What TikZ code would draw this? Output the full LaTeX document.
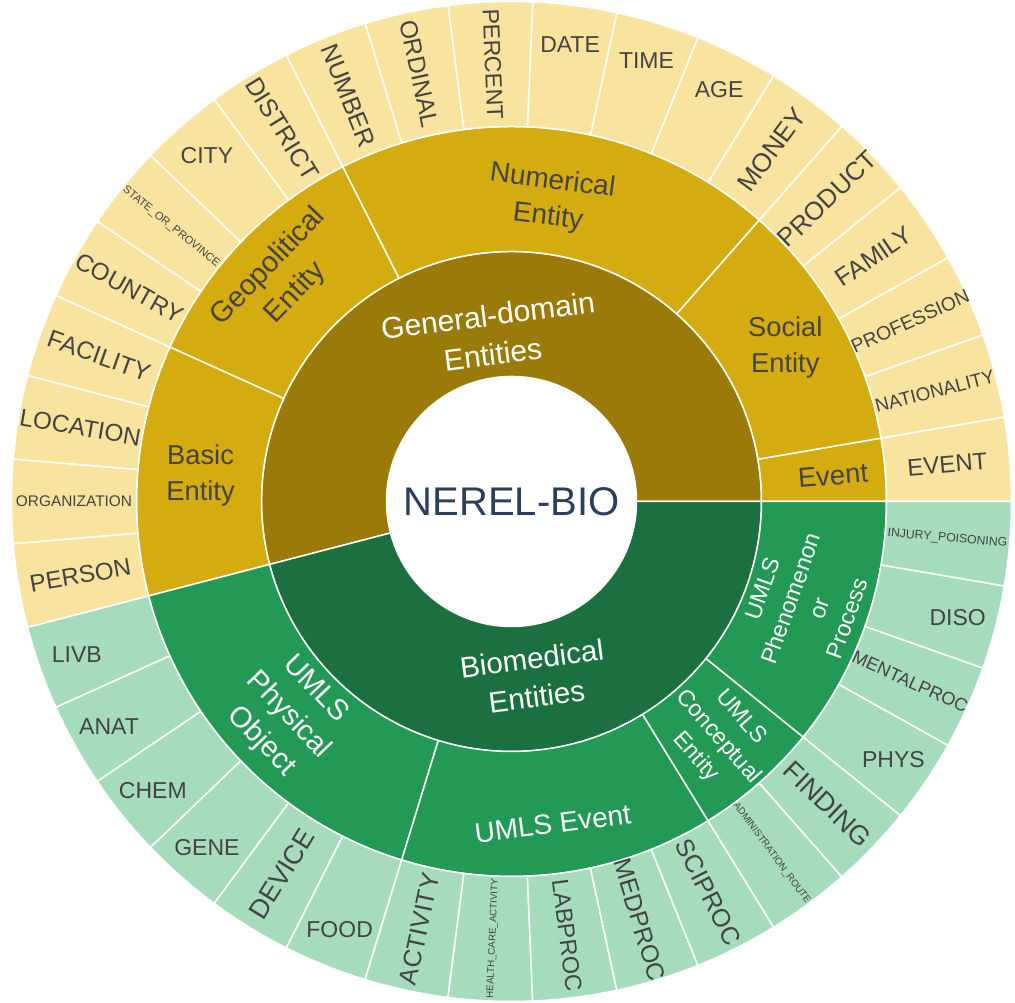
\documentclass[tikz,border=0pt]{standalone}
\usepackage{fontspec}
\setmainfont{Liberation Sans}
\usepackage{tikz}
\usepackage{xcolor}

\definecolor{gdInner}{HTML}{9A7B0A}
\definecolor{gdMid}{HTML}{D4AC10}
\definecolor{gdLeaf}{HTML}{F8E49E}
\definecolor{bioInner}{HTML}{1A703E}
\definecolor{bioMid}{HTML}{229955}
\definecolor{bioLeaf}{HTML}{A5DCBC}
\definecolor{labelGray}{HTML}{444444}
\definecolor{titleBlue}{HTML}{2A3F5F}

\begin{document}
\begin{tikzpicture}[x=1pt, y=1pt]
        % Cell and label style definitions
        \tikzset{
            sector/.style n args={4}{insert path={({#1}:#3) arc[start angle={#1}, end angle={#2}, radius=#3] -- ({#2}:#4) arc[start angle={#2}, end angle={#1}, radius=#4] -- cycle}},
            gdInnerCell/.style={fill=gdInner, draw=white, line width=1.5pt},
            gdMidCell/.style={fill=gdMid, draw=white, line width=1.5pt},
            gdLeafCell/.style={fill=gdLeaf, draw=white, line width=1.5pt},
            bioInnerCell/.style={fill=bioInner, draw=white, line width=1.5pt},
            bioMidCell/.style={fill=bioMid, draw=white, line width=1.5pt},
            bioLeafCell/.style={fill=bioLeaf, draw=white, line width=1.5pt},
            lbl/.style={inner sep=0pt, text=labelGray},
            wlbl/.style={inner sep=0pt, text=white},
            ft/.style 2 args={font=\fontsize{#1}{#2}\selectfont}
        }

        \fill[white] (-511.5,-500) rectangle (503.5,500);

        % ==========================================
        % INNER RING (domains)
        % ==========================================

        \path[gdInnerCell, sector={0}{194.59}{125}{250}];
        \path[bioInnerCell, sector={194.59}{360}{125}{250}];

        % ==========================================
        % MIDDLE RING (entity groups)
        % ==========================================

        \path[gdMidCell, sector={0}{9.73}{250}{375}];
        \path[gdMidCell, sector={9.73}{48.65}{250}{375}];
        \path[gdMidCell, sector={48.65}{116.76}{250}{375}];
        \path[gdMidCell, sector={116.76}{155.68}{250}{375}];
        \path[gdMidCell, sector={155.68}{194.59}{250}{375}];
        \path[bioMidCell, sector={194.59}{252.97}{250}{375}];
        \path[bioMidCell, sector={252.97}{301.62}{250}{375}];
        \path[bioMidCell, sector={301.62}{321.08}{250}{375}];
        \path[bioMidCell, sector={321.08}{360}{250}{375}];

        % ==========================================
        % OUTER RING (entity types)
        % ==========================================

        \path[gdLeafCell, sector={0}{9.73}{375}{500}];
        \path[gdLeafCell, sector={9.73}{19.46}{375}{500}];
        \path[gdLeafCell, sector={19.46}{29.19}{375}{500}];
        \path[gdLeafCell, sector={29.19}{38.92}{375}{500}];
        \path[gdLeafCell, sector={38.92}{48.65}{375}{500}];
        \path[gdLeafCell, sector={48.65}{58.38}{375}{500}];
        \path[gdLeafCell, sector={58.38}{68.11}{375}{500}];
        \path[gdLeafCell, sector={68.11}{77.84}{375}{500}];
        \path[gdLeafCell, sector={77.84}{87.57}{375}{500}];
        \path[gdLeafCell, sector={87.57}{97.30}{375}{500}];
        \path[gdLeafCell, sector={97.30}{107.03}{375}{500}];
        \path[gdLeafCell, sector={107.03}{116.76}{375}{500}];
        \path[gdLeafCell, sector={116.76}{126.49}{375}{500}];
        \path[gdLeafCell, sector={126.49}{136.22}{375}{500}];
        \path[gdLeafCell, sector={136.22}{145.95}{375}{500}];
        \path[gdLeafCell, sector={145.95}{155.68}{375}{500}];
        \path[gdLeafCell, sector={155.68}{165.41}{375}{500}];
        \path[gdLeafCell, sector={165.41}{175.14}{375}{500}];
        \path[gdLeafCell, sector={175.14}{184.86}{375}{500}];
        \path[gdLeafCell, sector={184.86}{194.59}{375}{500}];
        \path[bioLeafCell, sector={194.59}{204.32}{375}{500}];
        \path[bioLeafCell, sector={204.32}{214.05}{375}{500}];
        \path[bioLeafCell, sector={214.05}{223.78}{375}{500}];
        \path[bioLeafCell, sector={223.78}{233.51}{375}{500}];
        \path[bioLeafCell, sector={233.51}{243.24}{375}{500}];
        \path[bioLeafCell, sector={243.24}{252.97}{375}{500}];
        \path[bioLeafCell, sector={252.97}{262.70}{375}{500}];
        \path[bioLeafCell, sector={262.70}{272.43}{375}{500}];
        \path[bioLeafCell, sector={272.43}{282.16}{375}{500}];
        \path[bioLeafCell, sector={282.16}{291.89}{375}{500}];
        \path[bioLeafCell, sector={291.89}{301.62}{375}{500}];
        \path[bioLeafCell, sector={301.62}{311.35}{375}{500}];
        \path[bioLeafCell, sector={311.35}{321.08}{375}{500}];
        \path[bioLeafCell, sector={321.08}{330.81}{375}{500}];
        \path[bioLeafCell, sector={330.81}{340.54}{375}{500}];
        \path[bioLeafCell, sector={340.54}{350.27}{375}{500}];
        \path[bioLeafCell, sector={350.27}{360}{375}{500}];

        % ==========================================
        % LABELS
        % ==========================================

        \node[inner sep=0pt, text=titleBlue, ft={40}{40}] (root) at (0,0) {NEREL-BIO};

        \node[wlbl, ft={30}{39}, align=center, rotate=7.3] (generalDom) at (97.2:168) {General-domain\\Entities};
        \node[wlbl, ft={29.5}{38.5}, align=center, rotate=7.3] (biomedical) at (277.4:177.5) {Biomedical\\Entities};

        \node[lbl, ft={27.4}{27.4}, rotate=4.6] (eventGroup) at (4.6:322.5) {Event};
        \node[lbl, ft={27.3}{36}, align=center] (socialEnt) at (29.3:314) {Social\\Entity};
        \node[lbl, ft={28}{36.4}, align=center, rotate=-7.3] (numericalEnt) at (82.7:304.5) {Numerical\\Entity};
        \node[lbl, ft={29}{37.7}, align=center, rotate=46.2] (geoEnt) at (136:319) {Geopolitical\\Entity};
        \node[lbl, ft={27.3}{36}, align=center] (basicEnt) at (175.3:312) {Basic\\Entity};
        \node[wlbl, ft={29}{37.7}, align=center, rotate=-46.2] (physObject) at (223.8:309.4) {UMLS\\Physical\\Object};
        \node[wlbl, ft={28}{28}, rotate=7.3] (umlsEvent) at (277.3:324.7) {UMLS Event};
        \node[wlbl, ft={23}{29.9}, align=center, rotate=-48.65] (conceptEnt) at (311.2:313.6) {UMLS\\Conceptual\\Entity};
        \node[wlbl, ft={23}{29.9}, align=center, rotate=70.5] (phenProcess) at (340.8:310.7) {UMLS\\Phenomenon\\or\\Process};

        \node[lbl, ft={24}{24}, rotate=4.86] (event) at (4.86:437.5) {EVENT};
        \node[lbl, ft={18.9}{18.9}, rotate=14.59] (nationality) at (14.59:437.5) {NATIONALITY};
        \node[lbl, ft={19.4}{19.4}, rotate=24.32] (profession) at (24.32:437.5) {PROFESSION};
        \node[lbl, ft={24.8}{24.8}, rotate=34.05] (family) at (34.05:437.5) {FAMILY};
        \node[lbl, ft={25.6}{25.6}, rotate=43.78] (product) at (43.78:437.5) {PRODUCT};
        \node[lbl, ft={26.2}{26.2}, rotate=53.51] (money) at (53.51:437.5) {MONEY};
        \node[lbl, ft={23}{23}] (age) at (63.24:461) {AGE};
        \node[lbl, ft={23}{23}] (time) at (72.97:461) {TIME};
        \node[lbl, ft={23}{23}] (date) at (82.70:461) {DATE};
        \node[lbl, ft={23.2}{23.2}, rotate=-87.57] (percent) at (92.43:437.5) {PERCENT};
        \node[lbl, ft={24.5}{24.5}, rotate=-77.84] (ordinal) at (102.16:437.5) {ORDINAL};
        \node[lbl, ft={25}{25}, rotate=-68.11] (number) at (111.89:437.5) {NUMBER};
        \node[lbl, ft={25.2}{25.2}, rotate=-58.38] (district) at (121.62:437.5) {DISTRICT};
        \node[lbl, ft={23}{23}] (city) at (131.35:461) {CITY};
        \node[lbl, ft={11.1}{11.1}, rotate=-38.92] (stateProv) at (141.08:437.5) {STATE\_OR\_PROVINCE};
        \node[lbl, ft={24.1}{24.1}, rotate=-29.19] (country) at (150.81:437.5) {COUNTRY};
        \node[lbl, ft={24.7}{24.7}, rotate=-19.46] (facility) at (160.54:437.5) {FACILITY};
        \node[lbl, ft={24.3}{24.3}, rotate=-9.73] (location) at (170.27:437.5) {LOCATION};
        \node[lbl, ft={15.4}{15.4}] (organization) at (180:437.5) {ORGANIZATION};
        \node[lbl, ft={24.2}{24.2}, rotate=9.73] (person) at (189.73:437.5) {PERSON};
        \node[lbl, ft={23}{23}] (livb) at (199.46:461) {LIVB};
        \node[lbl, ft={23}{23}] (anat) at (209.19:461) {ANAT};
        \node[lbl, ft={23}{23}] (chem) at (218.92:461) {CHEM};
        \node[lbl, ft={23}{23}] (gene) at (228.65:461) {GENE};
        \node[lbl, ft={26.9}{26.9}, rotate=58.38] (device) at (238.38:437.5) {DEVICE};
        \node[lbl, ft={23}{23}] (food) at (248.11:461) {FOOD};
        \node[lbl, ft={25.2}{25.2}, rotate=77.84] (activity) at (257.84:437.5) {ACTIVITY};
        \node[lbl, ft={9.7}{9.7}, rotate=87.57] (hcActivity) at (267.57:437.5) {HEALTH\_CARE\_ACTIVITY};
        \node[lbl, ft={23.4}{23.4}, rotate=-82.70] (labproc) at (277.30:437.5) {LABPROC};
        \node[lbl, ft={24.7}{24.7}, rotate=-72.97] (medproc) at (287.03:437.5) {MEDPROC};
        \node[lbl, ft={25.2}{25.2}, rotate=-63.24] (sciproc) at (296.76:437.5) {SCIPROC};
        \node[lbl, ft={9.8}{9.8}, rotate=-53.51] (adminRoute) at (306.49:437.5) {ADMINISTRATION\_ROUTE};
        \node[lbl, ft={26.8}{26.8}, rotate=-43.78] (finding) at (316.22:437.5) {FINDING};
        \node[lbl, ft={23}{23}] (phys) at (325.95:461) {PHYS};
        \node[lbl, ft={18.1}{18.1}, rotate=-24.32] (mentalproc) at (335.68:437.5) {MENTALPROC};
        \node[lbl, ft={23}{23}] (diso) at (345.41:461) {DISO};
        \node[lbl, ft={12.2}{12.2}, rotate=-4.86] (injury) at (355.14:437.5) {INJURY\_POISONING};
    \end{tikzpicture}
\end{document}
